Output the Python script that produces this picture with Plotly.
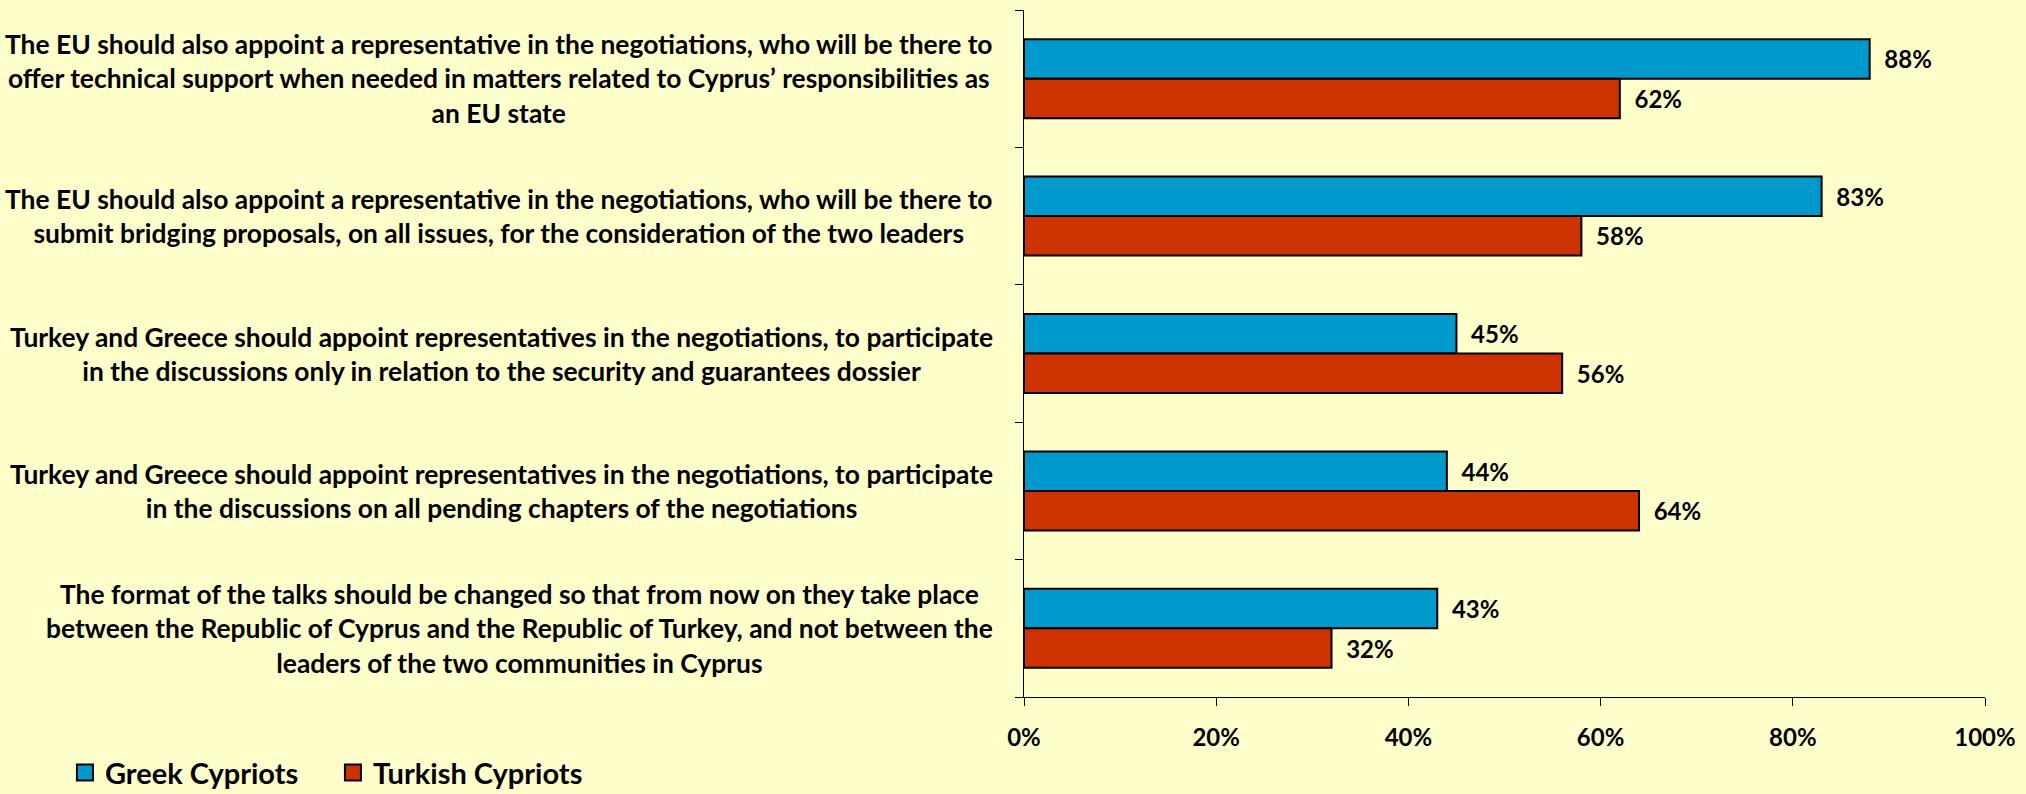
import plotly.graph_objects as go

categories = [
    "The EU should also appoint a representative in the negotiations, who will be there to<br>offer technical support when needed in matters related to Cyprus\u2019 responsibilities as<br>an EU state",
    "The EU should also appoint a representative in the negotiations, who will be there to<br>submit bridging proposals, on all issues, for the consideration of the two leaders",
    "Turkey and Greece should appoint representatives in the negotiations, to participate<br>in the discussions only in relation to the security and guarantees dossier",
    "Turkey and Greece should appoint representatives in the negotiations, to participate<br>in the discussions on all pending chapters of the negotiations",
    "The format of the talks should be changed so that from now on they take place<br>between the Republic of Cyprus and the Republic of Turkey, and not between the<br>leaders of the two communities in Cyprus",
]
greek_cypriots = [88, 83, 45, 44, 43]
turkish_cypriots = [62, 58, 56, 64, 32]
series_names = ["Greek Cypriots", "Turkish Cypriots"]
x_ticks = [0, 20, 40, 60, 80, 100]

FONT = "Lato, sans-serif"
BLUE = "#0099CC"
RED = "#CC3300"
BG = "#FFFFCC"

fig = go.Figure()
for name, vals, col in [(series_names[0], greek_cypriots, BLUE),
                        (series_names[1], turkish_cypriots, RED)]:
    fig.add_trace(go.Bar(
        y=list(range(len(categories))), x=vals, name=name, orientation="h",
        marker=dict(color=col, line=dict(color="black", width=2)),
        texttemplate="\u00a0\u00a0%{x}%", textposition="outside",
        textfont=dict(family=FONT, size=24, color="black", weight="bold"),
        constraintext="none", cliponaxis=False, hoverinfo="skip",
        showlegend=False, legendgroup=name,
    ))
    # legend entry (larger square swatch like the original)
    fig.add_trace(go.Scatter(
        x=[None], y=[None], mode="markers", name=name, legendgroup=name,
        marker=dict(symbol="square", size=16, color=col, line=dict(color="black", width=2)),
        showlegend=True, hoverinfo="skip",
    ))

for i, label in enumerate(categories):
    fig.add_annotation(
        x=0, xref="paper", y=i, yref="y", text=label, showarrow=False,
        xanchor="right", yanchor="middle", align="center", xshift=-29,
        font=dict(family=FONT, size=26.4, color="black", weight="bold"),
    )

fig.update_layout(
    width=2026, height=794,
    margin=dict(l=1024, r=41, t=10, b=97, autoexpand=False),
    paper_bgcolor=BG, plot_bgcolor=BG,
    barmode="group", bargap=0.425, bargroupgap=0,
    showlegend=True,
    legend=dict(orientation="h", x=-0.998, xanchor="left", y=-0.11, yanchor="middle",
                font=dict(family=FONT, size=29, color="black", weight="bold"),
                bgcolor="rgba(0,0,0,0)", traceorder="normal", itemclick=False,
                itemdoubleclick=False, entrywidth=223, entrywidthmode="pixels"),
    font=dict(family=FONT, color="black"),
)
fig.update_yaxes(
    type="linear", range=[len(categories) - 0.5, -0.5],
    tickvals=[k - 0.5 for k in range(len(categories) + 1)],
    showticklabels=False, ticks="outside", ticklen=8, tickcolor="black",
    showline=True, linecolor="black", linewidth=1, showgrid=False, zeroline=False,
)
fig.update_xaxes(
    range=[0, 100], tickvals=x_ticks, ticktext=[f"{v}%" for v in x_ticks],
    ticks="outside", ticklen=8, tickcolor="black", ticklabelstandoff=11,
    tickfont=dict(family=FONT, size=24, color="black", weight="bold"),
    showline=True, linecolor="black", linewidth=1, showgrid=False, zeroline=False,
)

fig.write_html(
    "out.html",
    config={"displayModeBar": False, "staticPlot": True},
    post_script="document.body.style.margin='0';document.body.style.overflow='hidden';"
                "document.body.style.background='#FFFFCC';",
)
